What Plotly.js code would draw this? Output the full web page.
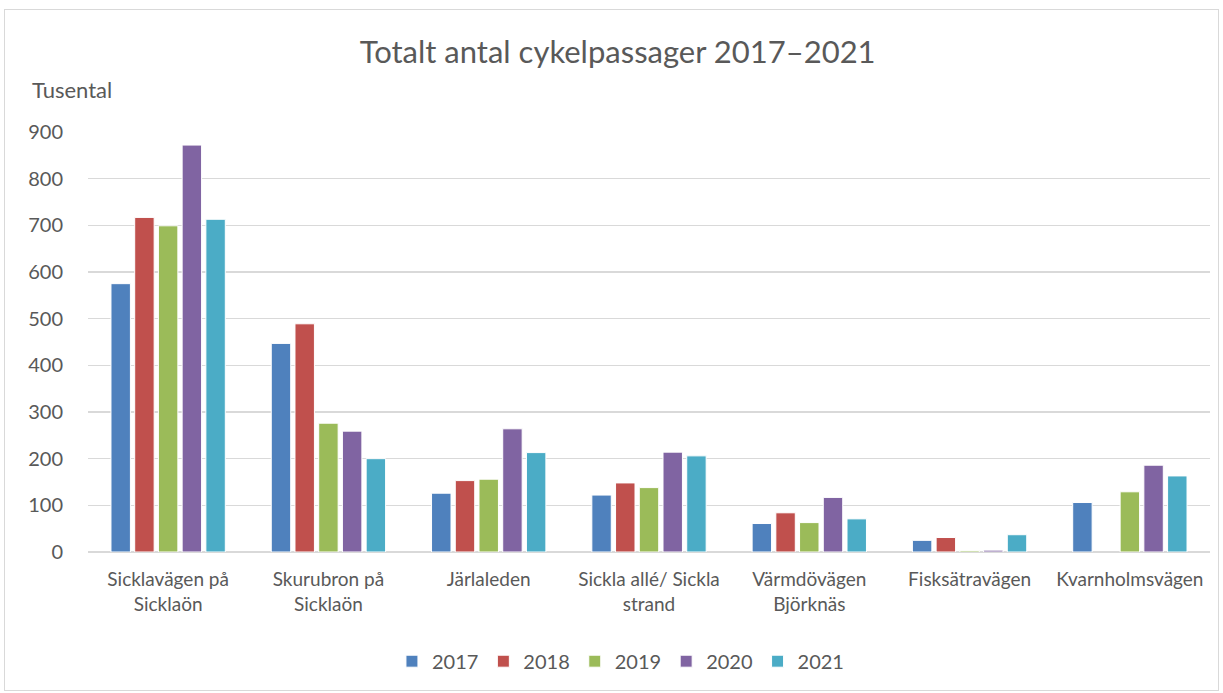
<!DOCTYPE html>
<html>
<head>
<meta charset="utf-8">
<script src="https://cdn.plot.ly/plotly-3.0.1.min.js"></script>
<style>
  body { margin: 0; background: #fff; }
  #frame { position: absolute; left: 4px; top: 9px; width: 1213px; height: 680px; border: 1px solid #d9d9d9; }
  #chart { position: absolute; left: 0; top: 0; width: 1223px; height: 693px; }
</style>
</head>
<body>
<div id="frame"></div>
<div id="chart"></div>
<script>
// platser (kategorier)
var places = [
	'Sicklavägen på<br>Sicklaön',
	'Skurubron på<br>Sicklaön',
	'Järlaleden',
	'Sickla allé/ Sickla<br>strand',
	'Värmdövägen<br>Björknäs',
	'Fisksätravägen',
	'Kvarnholmsvägen'
];

var years = ['2017', '2018', '2019', '2020', '2021'];

// tusental passager per år
var v2017 = [575, 447, 126, 122, 61, 25, 106];
var v2018 = [717, 489, 153, 148, 84, 31, null];
var v2019 = [699, 276, 156, 138, 63, 3, 129];
var v2020 = [872, 259, 264, 214, 117, 4, 186];
var v2021 = [713, 200, 213, 206, 71, 37, 163];

var colors = ['#4F81BD', '#C0504D', '#9BBB59', '#8064A2', '#4BACC6'];

var yTicks = [0, 100, 200, 300, 400, 500, 600, 700, 800, 900];

var FONT = 'Lato, "Open Sans", sans-serif';
var GREY = '#595959';

var series = [v2017, v2018, v2019, v2020, v2021];
var data = [];
for (var i = 0; i < years.length; i++) {
	data.push({
		x: places,
		y: series[i],
		name: years[i],
		type: 'bar',
		marker: { color: colors[i], line: { color: '#ffffff', width: 1 } },
		hoverinfo: 'y+name'
	});
}

var layout = {
	width: 1223,
	height: 693,
	margin: { l: 88, r: 13, t: 132, b: 141 },
	paper_bgcolor: 'rgba(0,0,0,0)',
	plot_bgcolor: 'rgba(0,0,0,0)',
	font: { family: FONT, color: GREY },
	title: {
		text: 'Totalt antal cykelpassager 2017–2021',
		font: { size: 31, color: GREY, family: FONT },
		x: 0.505, xanchor: 'center',
		yref: 'container', y: 0.925, yanchor: 'middle'
	},
	barmode: 'group',
	bargap: 0.26,
	bargroupgap: 0.18,
	xaxis: {
		type: 'category',
		tickfont: { size: 19, color: GREY },
		showgrid: false,
		showline: false,
		ticks: '',
		tickangle: 0,
		ticklabelstandoff: 14,
		automargin: false
	},
	yaxis: {
		range: [0, 900],
		tickvals: yTicks,
		ticktext: yTicks.map(String),
		tickfont: { size: 20, color: GREY },
		gridcolor: '#d9d9d9',
		gridwidth: 1.6,
		zeroline: true,
		zerolinecolor: '#d9d9d9',
		zerolinewidth: 1.6,
		showline: false,
		// invisible ticks push the labels left like in the original
		ticks: 'outside',
		ticklen: 20,
		tickcolor: 'rgba(0,0,0,0)',
		automargin: false
	},
	annotations: [{
		text: 'Tusental',
		xref: 'paper', yref: 'paper',
		x: -0.052, y: 1.1, xanchor: 'left', yanchor: 'middle',
		showarrow: false,
		font: { size: 22, color: GREY, family: FONT }
	}],
	legend: {
		orientation: 'h',
		x: 0.475, xanchor: 'center',
		y: -0.26, yanchor: 'middle',
		font: { size: 20, color: GREY },
		itemwidth: 30,
		traceorder: 'normal'
	},
	showlegend: true
};

Plotly.newPlot('chart', data, layout, { displayModeBar: false, staticPlot: true });
</script>
</body>
</html>
